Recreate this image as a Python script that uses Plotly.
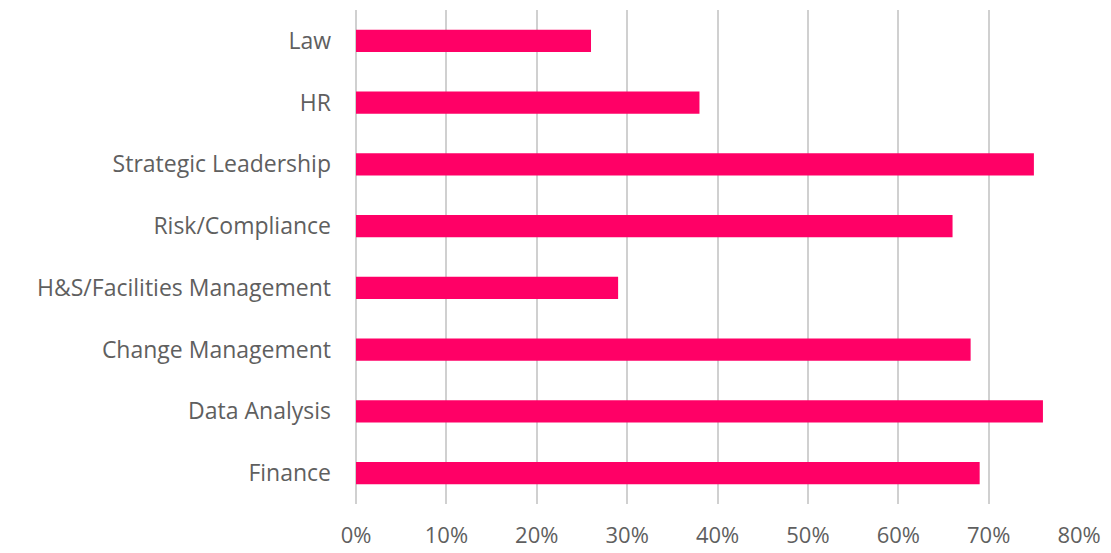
import plotly.graph_objects as go

categories = ["Law", "HR", "Strategic Leadership", "Risk/Compliance",
              "H&S/Facilities Management", "Change Management",
              "Data Analysis", "Finance"]
values = [0.26, 0.38, 0.75, 0.66, 0.29, 0.68, 0.76, 0.69]
tick_vals = [0, 0.1, 0.2, 0.3, 0.4, 0.5, 0.6, 0.7, 0.8]
tick_text = ["0%", "10%", "20%", "30%", "40%", "50%", "60%", "70%", "80%"]

fig = go.Figure(go.Bar(
    y=categories, x=values, orientation="h",
    marker=dict(color="#FF0066", line=dict(width=0)),
    width=0.36,
))

font_family = "Open Sans, Lato, sans-serif"
grid = "#D0D0D0"
fig.update_layout(
    width=1111, height=553,
    margin=dict(l=356, r=31, t=10, b=49),
    paper_bgcolor="white", plot_bgcolor="white",
    showlegend=False,
    font=dict(family=font_family, size=22, color="#595959"),
    xaxis=dict(range=[0, 0.801], tickvals=tick_vals, ticktext=tick_text,
               showgrid=True, gridcolor=grid, gridwidth=1.5,
               zeroline=True, zerolinecolor=grid, zerolinewidth=1.5,
               showline=False, ticks="", automargin=False,
               ticklabelstandoff=16,
               tickfont=dict(size=22, color="#5f5f5f")),
    yaxis=dict(autorange="reversed", showgrid=False, zeroline=False,
               showline=False, ticks="", ticklabelstandoff=24,
               automargin=False,
               tickfont=dict(size=23, color="#5f5f5f")),
)

fig.write_html("out.html")
